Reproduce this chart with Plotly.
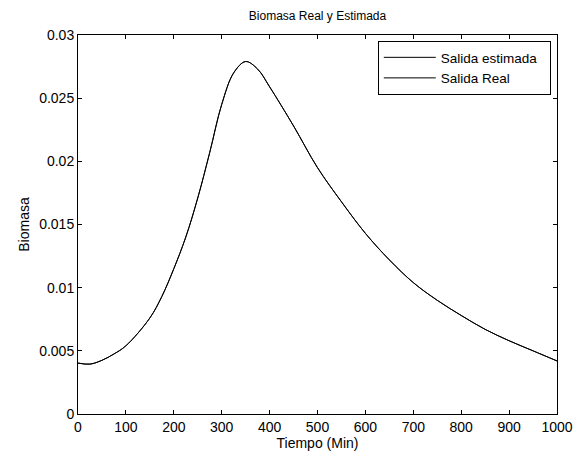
import plotly.graph_objects as go

tiempo = [0, 25, 50, 75, 100, 150, 175, 200, 225, 250, 275, 300, 325, 350, 375, 400, 450,
          500, 550, 600, 650, 700, 750, 800, 850, 900, 950, 1000]
biomasa_real = [0.00403, 0.00395, 0.00425, 0.00475, 0.00540, 0.00760, 0.00930, 0.01150, 0.01400,
                0.01710, 0.02070, 0.02450, 0.02700, 0.02790, 0.02730, 0.02590, 0.02280,
                0.01950, 0.01680, 0.01430, 0.01220, 0.01040, 0.00900, 0.00780, 0.00670,
                0.00580, 0.00500, 0.00420]
biomasa_estimada = list(biomasa_real)

x_ticks = [0, 100, 200, 300, 400, 500, 600, 700, 800, 900, 1000]
y_ticks = [0, 0.005, 0.01, 0.015, 0.02, 0.025, 0.03]
y_labels = ["0", "0.005", "0.01", "0.015", "0.02", "0.025", "0.03"]

font = "Liberation Sans, Arial, sans-serif"

# page body has an 8px margin; figure coordinates are screen - 8
W, H = 573, 447
L, R, T, B = 70, 24, 27, 41

fig = go.Figure()
fig.add_trace(go.Scatter(x=tiempo, y=biomasa_estimada, mode="lines",
                         name="Salida estimada\u00a0\u00a0",
                         line=dict(color="black", width=1, shape="spline", smoothing=1.0)))
fig.add_trace(go.Scatter(x=tiempo, y=biomasa_real, mode="lines",
                         name="Salida Real",
                         line=dict(color="black", width=1, shape="spline", smoothing=1.0)))

axis_common = dict(showline=True, linecolor="black", linewidth=1, mirror="ticks",
                   ticks="inside", ticklen=4, tickcolor="black", tickwidth=1,
                   showgrid=False, zeroline=False,
                   tickfont=dict(family=font, size=14, color="black"))

fig.update_layout(
    width=W, height=H,
    paper_bgcolor="white", plot_bgcolor="white",
    margin=dict(l=L, r=R, t=T, b=B, autoexpand=False),
    title=dict(text="Biomasa Real y Estimada", x=(L + (W - R)) / 2 / W, xanchor="center",
               y=1 - 7.5 / H, yanchor="middle",
               font=dict(family=font, size=12, color="black")),
    xaxis=dict(range=[0, 1000], tickvals=x_ticks, ticktext=[str(v) for v in x_ticks],
               title=dict(text="Tiempo (Min)", font=dict(family=font, size=14, color="black"),
                          standoff=0),
               **axis_common),
    yaxis=dict(range=[0, 0.03], tickvals=y_ticks, ticktext=y_labels,
               title=dict(text="Biomasa", font=dict(family=font, size=14, color="black"),
                          standoff=6),
               **axis_common),
    legend=dict(x=0.987, y=0.984, xanchor="right", yanchor="top",
                bgcolor="white", bordercolor="black", borderwidth=1,
                font=dict(family=font, size=13.5, color="black"),
                tracegroupgap=0, itemwidth=52),
    showlegend=True,
)

fig.write_html("out.html")
